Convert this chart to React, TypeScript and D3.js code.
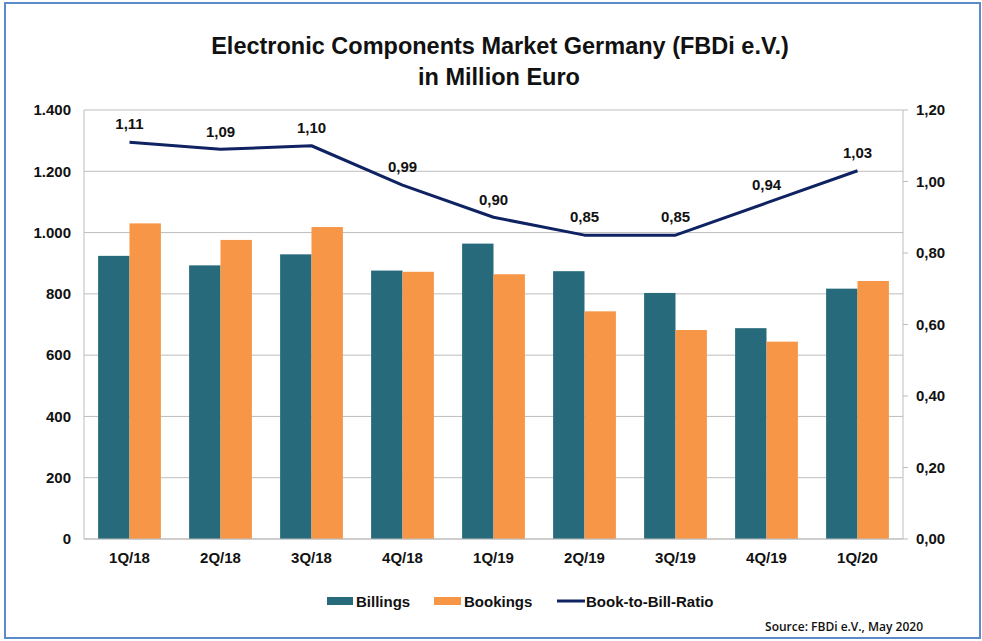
import React from "react";
import * as d3 from "d3";

const categories = ["1Q/18", "2Q/18", "3Q/18", "4Q/18", "1Q/19", "2Q/19", "3Q/19", "4Q/19", "1Q/20"];
const billings = [924, 893, 929, 876, 964, 874, 803, 688, 817];
const bookings = [1030, 976, 1018, 872, 864, 743, 682, 644, 842];
const ratio = [1.11, 1.09, 1.1, 0.99, 0.9, 0.85, 0.85, 0.94, 1.03];
const leftTicks = [0, 200, 400, 600, 800, 1000, 1200, 1400];
const rightTicks = [0, 0.2, 0.4, 0.6, 0.8, 1.0, 1.2];
const seriesNames = ["Billings", "Bookings", "Book-to-Bill-Ratio"];

const W = 982;
const H = 641;
const M = { left: 84, right: 903, top: 110, bottom: 539 };
const C_BILL = "#276a7b";
const C_BOOK = "#f79646";
const C_LINE = "#0f2262";
const FONT = "'Liberation Sans', Arial, sans-serif";

export default function App() {
  const x = d3.scaleBand<string>().domain(categories).range([M.left, M.right]).paddingInner(0.31).paddingOuter(0.155);
  const inner = d3.scaleBand<string>().domain(["b", "k"]).range([0, x.bandwidth()]);
  const yL = d3.scaleLinear().domain([0, 1400]).range([M.bottom, M.top]);
  const yR = d3.scaleLinear().domain([0, 1.2]).range([M.bottom, M.top]);
  const cx = (c: string) => (x(c) as number) + x.bandwidth() / 2;
  const line = d3
    .line<number>()
    .x((_, i) => cx(categories[i]))
    .y((d) => yR(d));
  const fmtL = (v: number) => d3.format(",")(v).replace(/,/g, ".");
  const fmtR = (v: number) => v.toFixed(2).replace(".", ",");

  return (
    <svg width={W} height={H} style={{ position: "absolute", left: 0, top: 0, background: "#fff" }} fontFamily={FONT}>
      <rect x={5} y={3} width={975} height={635} fill="#fff" stroke="#5b8cc9" strokeWidth={2} />
      <text x={500} y={54} textAnchor="middle" fontSize={23.5} fontWeight="bold" fill="#111">
        Electronic Components Market Germany (FBDi e.V.)
      </text>
      <text x={499} y={85} textAnchor="middle" fontSize={23.5} fontWeight="bold" fill="#111">
        in Million Euro
      </text>

      {/* gridlines */}
      {leftTicks.map((t) => (
        <line key={"g" + t} x1={M.left} x2={M.right} y1={yL(t)} y2={yL(t)} stroke="#bdbdbd" strokeWidth={1} />
      ))}
      <line x1={M.left} x2={M.left} y1={M.top} y2={M.bottom} stroke="#bdbdbd" />
      {leftTicks.map((t) => (
        <text key={"l" + t} x={71} y={yL(t)} dy="0.35em" textAnchor="end" fontSize={15} fontWeight="bold" fill="#111">
          {fmtL(t)}
        </text>
      ))}

      {/* right axis */}
      <line x1={M.right} x2={M.right} y1={M.top} y2={M.bottom} stroke="#bdbdbd" />
      {rightTicks.map((t) => (
        <g key={"r" + t}>
          <line x1={M.right} x2={M.right + 5} y1={yR(t)} y2={yR(t)} stroke="#bdbdbd" />
          <text x={916} y={yR(t)} dy="0.35em" textAnchor="start" fontSize={15} fontWeight="bold" fill="#111">
            {fmtR(t)}
          </text>
        </g>
      ))}

      {/* bars */}
      {categories.map((c, i) => (
        <g key={c}>
          <rect x={(x(c) as number) + (inner("b") as number)} y={yL(billings[i])} width={inner.bandwidth()} height={M.bottom - yL(billings[i])} fill={C_BILL} />
          <rect x={(x(c) as number) + (inner("k") as number)} y={yL(bookings[i])} width={inner.bandwidth()} height={M.bottom - yL(bookings[i])} fill={C_BOOK} />
          <text x={cx(c)} y={558} dy="0.35em" textAnchor="middle" fontSize={15} fontWeight="bold" fill="#111">
            {c}
          </text>
        </g>
      ))}
      <line x1={M.left} x2={M.right} y1={M.bottom} y2={M.bottom} stroke="#bdbdbd" />

      {/* ratio line */}
      <path d={line(ratio) || ""} fill="none" stroke={C_LINE} strokeWidth={3} strokeLinejoin="round" />
      {ratio.map((r, i) => (
        <text key={"rl" + i} x={cx(categories[i])} y={yR(r) - 18} dy="0.35em" textAnchor="middle" fontSize={15} fontWeight="bold" fill="#111">
          {fmtR(r)}
        </text>
      ))}

      {/* legend */}
      <rect x={327} y={597} width={26} height={8} fill={C_BILL} />
      <text x={356} y={601.5} dy="0.35em" fontSize={15} fontWeight="bold" fill="#111">{seriesNames[0]}</text>
      <rect x={434} y={597} width={27} height={8} fill={C_BOOK} />
      <text x={464} y={601.5} dy="0.35em" fontSize={15} fontWeight="bold" fill="#111">{seriesNames[1]}</text>
      <line x1={557} x2={585} y1={601} y2={601} stroke={C_LINE} strokeWidth={3} />
      <text x={586} y={601.5} dy="0.35em" fontSize={15} fontWeight="bold" fill="#111">{seriesNames[2]}</text>

      <text x={923} y={627} dy="0.35em" textAnchor="end" fontSize={12} fontWeight={600} fontFamily="'Open Sans', sans-serif" fill="#111">
        Source: FBDi e.V., May 2020
      </text>
    </svg>
  );
}
